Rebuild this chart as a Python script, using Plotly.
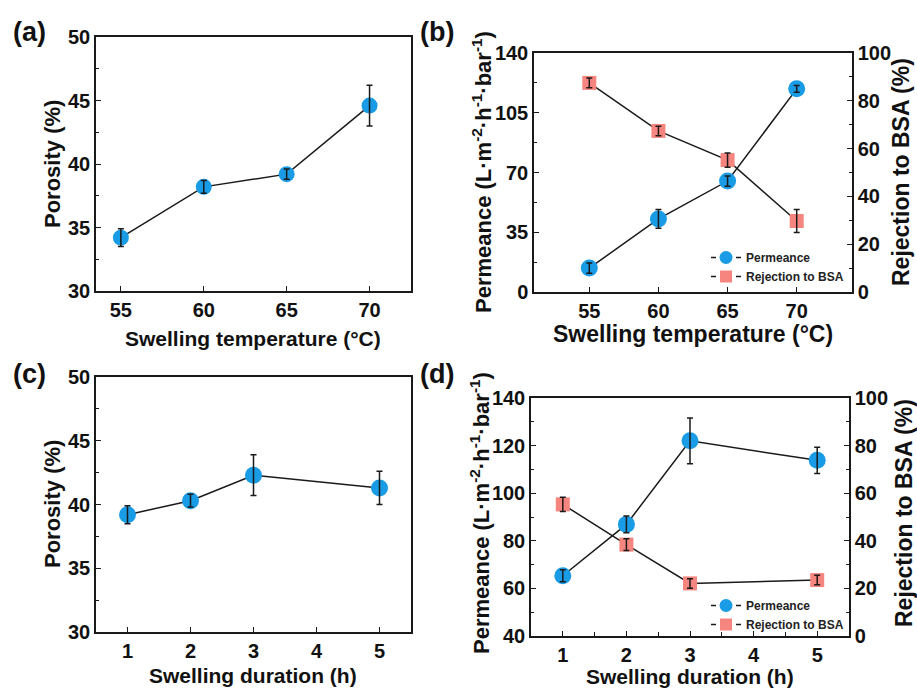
import plotly.graph_objects as go

# ---------------- data ----------------
temps = [55, 60, 65, 70]
por_temp = [34.2, 38.2, 39.2, 44.6]
por_temp_err = [0.7, 0.5, 0.4, 1.6]

perm_temp = [14.0, 42.8, 65.0, 119.0]
perm_temp_err = [3.0, 5.5, 3.0, 2.0]
rej_temp = [87.5, 67.4, 55.2, 29.7]
rej_temp_err = [2.0, 2.0, 3.0, 4.8]

durations = [1, 2, 3, 5]
por_dur = [39.2, 40.3, 42.3, 41.3]
por_dur_err = [0.7, 0.5, 1.6, 1.3]

perm_dur = [65.3, 86.9, 122.0, 113.8]
perm_dur_err = [2.5, 3.5, 9.6, 5.5]
rej_dur = [55.3, 38.4, 22.1, 23.5]
rej_dur_err = [3.0, 2.5, 2.0, 2.0]

temp_ticks = [55, 60, 65, 70]
dur_ticks = [1, 2, 3, 4, 5]

# ---------------- style ----------------
W, H = 917, 688
FONT = "Liberation Sans"
BLUE = "#1A9BE6"
PINK = "#F7857F"
LINE = "#1a1a1a"


def px(x):
    return x / W


def py(y):
    return 1 - y / H


fig = go.Figure()


def add_series(x, y, err, xa, ya, color, symbol, size, name):
    fig.add_trace(go.Scatter(
        x=x, y=y, mode="lines+markers", name=name,
        line=dict(color=LINE, width=1.5),
        marker=dict(color=color, symbol=symbol, size=size, line=dict(width=0)),
        xaxis=xa, yaxis=ya, showlegend=False,
    ))
    # error bars drawn on top of markers
    fig.add_trace(go.Scatter(
        x=x, y=y, mode="markers",
        marker=dict(color="rgba(0,0,0,0)", size=1),
        error_y=dict(type="data", array=err, visible=True, color=LINE,
                     thickness=1.5, width=3),
        xaxis=xa, yaxis=ya, showlegend=False, hoverinfo="skip",
    ))


def add_legend_entry(name, color, symbol, size, xa, ya, legend):
    fig.add_trace(go.Scatter(
        x=[None], y=[None], mode="lines+markers", name=name,
        line=dict(color=LINE, width=1.5, dash="5px,20px"),
        marker=dict(color=color, symbol=symbol, size=size, line=dict(width=0)),
        xaxis=xa, yaxis=ya, showlegend=True, legend=legend,
    ))


# (a)
add_series(temps, por_temp, por_temp_err, "x", "y", BLUE, "circle", 16, "Porosity")
# (b)
add_series(temps, perm_temp, perm_temp_err, "x2", "y2", BLUE, "circle", 17, "Permeance")
add_series(temps, rej_temp, rej_temp_err, "x2", "y3", PINK, "square", 14, "Rejection to BSA")
add_legend_entry("Permeance", BLUE, "circle", 13, "x2", "y2", "legend")
add_legend_entry("Rejection to BSA", PINK, "square", 12, "x2", "y3", "legend")
# (c)
add_series(durations, por_dur, por_dur_err, "x3", "y4", BLUE, "circle", 17, "Porosity")
# (d)
add_series(durations, perm_dur, perm_dur_err, "x4", "y5", BLUE, "circle", 17, "Permeance")
add_series(durations, rej_dur, rej_dur_err, "x4", "y6", PINK, "square", 14, "Rejection to BSA")
add_legend_entry("Permeance", BLUE, "circle", 13, "x4", "y5", "legend2")
add_legend_entry("Rejection to BSA", PINK, "square", 12, "x4", "y6", "legend2")

tickfont = dict(family=FONT, size=20, color="#111", weight="bold")


def ax_common(**kw):
    d = dict(showline=True, linecolor=LINE, linewidth=1.5, ticks="inside",
             ticklen=5, tickwidth=1.3, tickcolor=LINE, showgrid=False,
             zeroline=False, tickfont=tickfont, fixedrange=True,
             automargin=False)
    d.update(kw)
    return d


dom_a = ([px(96), px(411)], [py(291), py(37)])
dom_b = ([px(534), px(852)], [py(292), py(53)])
dom_c = ([px(96), px(411)], [py(632), py(377)])
dom_d = ([px(531), px(849)], [py(636), py(398)])

legend_font = dict(family=FONT, size=12, color="#222", weight="bold")

fig.update_layout(
    width=W, height=H, autosize=False,
    margin=dict(l=0, r=0, t=0, b=0, pad=0, autoexpand=False),
    paper_bgcolor="white", plot_bgcolor="white",
    font=dict(family=FONT, color="#111"),
    # (a)
    xaxis=ax_common(domain=dom_a[0], anchor="y", range=[53.5, 72.5],
                    tickvals=temp_ticks, mirror=True),
    yaxis=ax_common(domain=dom_a[1], anchor="x", range=[30, 50], dtick=5,
                    mirror=True,
                    minor=dict(dtick=2.5, ticks="inside", ticklen=3,
                               tickcolor=LINE)),
    # (b)
    xaxis2=ax_common(domain=dom_b[0], anchor="y2", range=[51, 74],
                     tickvals=temp_ticks, mirror=True),
    yaxis2=ax_common(domain=dom_b[1], anchor="x2", range=[0, 140], dtick=35,
                     minor=dict(dtick=17.5, ticks="inside", ticklen=3,
                                tickcolor=LINE)),
    yaxis3=ax_common(domain=dom_b[1], anchor="x2", overlaying="y2",
                     side="right", range=[0, 100], dtick=20,
                     minor=dict(dtick=10, ticks="inside", ticklen=3,
                                tickcolor=LINE)),
    # (c)
    xaxis3=ax_common(domain=dom_c[0], anchor="y4", range=[0.5, 5.5],
                     tickvals=dur_ticks, mirror=True),
    yaxis4=ax_common(domain=dom_c[1], anchor="x3", range=[30, 50], dtick=5,
                     mirror=True,
                     minor=dict(dtick=2.5, ticks="inside", ticklen=3,
                                tickcolor=LINE)),
    # (d)
    xaxis4=ax_common(domain=dom_d[0], anchor="y5", range=[0.5, 5.5],
                     tickvals=dur_ticks, mirror=True,
                     minor=dict(dtick=0.5, ticks="inside", ticklen=4,
                                tickcolor=LINE)),
    yaxis5=ax_common(domain=dom_d[1], anchor="x4", range=[40, 140], dtick=20,
                     minor=dict(dtick=10, ticks="inside", ticklen=3,
                                tickcolor=LINE)),
    yaxis6=ax_common(domain=dom_d[1], anchor="x4", overlaying="y5",
                     side="right", range=[0, 100], dtick=20,
                     minor=dict(dtick=10, ticks="inside", ticklen=3,
                                tickcolor=LINE)),
    legend=dict(x=px(706), y=py(243), xanchor="left", yanchor="top",
                bgcolor="rgba(0,0,0,0)", tracegroupgap=0, itemwidth=30,
                font=legend_font),
    legend2=dict(x=px(706), y=py(591), xanchor="left", yanchor="top",
                 bgcolor="rgba(0,0,0,0)", tracegroupgap=0, itemwidth=30,
                 font=legend_font),
)

annotations = []


def label(text, x, y, size, angle=0):
    annotations.append(dict(
        text=text, x=px(x), y=py(y), xref="paper", yref="paper",
        showarrow=False, textangle=angle, xanchor="center", yanchor="middle",
        font=dict(family=FONT, size=size, color="#111", weight="bold"),
    ))


# panel labels
label("(a)", 29, 32, 27)
label("(b)", 437, 32, 27)
label("(c)", 29, 374, 27)
label("(d)", 437, 374, 27)

# axis titles (a)
label("Swelling temperature (°C)", 253, 338, 21)
label("Porosity (%)", 52, 164, 22, -90)
# (b)
label("Swelling temperature (°C)", 693, 334, 23)
label("Permeance (L·m<sup>-2</sup>·h<sup>-1</sup>·bar<sup>-1</sup>)", 482, 172, 22, -90)
label("Rejection to BSA (%)", 901, 172, 23, -90)
# (c)
label("Swelling duration (h)", 253, 675, 21)
label("Porosity (%)", 52, 504, 22, -90)
# (d)
label("Swelling duration (h)", 690, 676, 21)
label("Permeance (L·m<sup>-2</sup>·h<sup>-1</sup>·bar<sup>-1</sup>)", 480, 513, 22, -90)
label("Rejection to BSA (%)", 904, 513, 23, -90)

fig.update_layout(annotations=annotations)

fig.write_html("out.html", config={"displayModeBar": False},
               post_script="document.body.style.margin='0';")
